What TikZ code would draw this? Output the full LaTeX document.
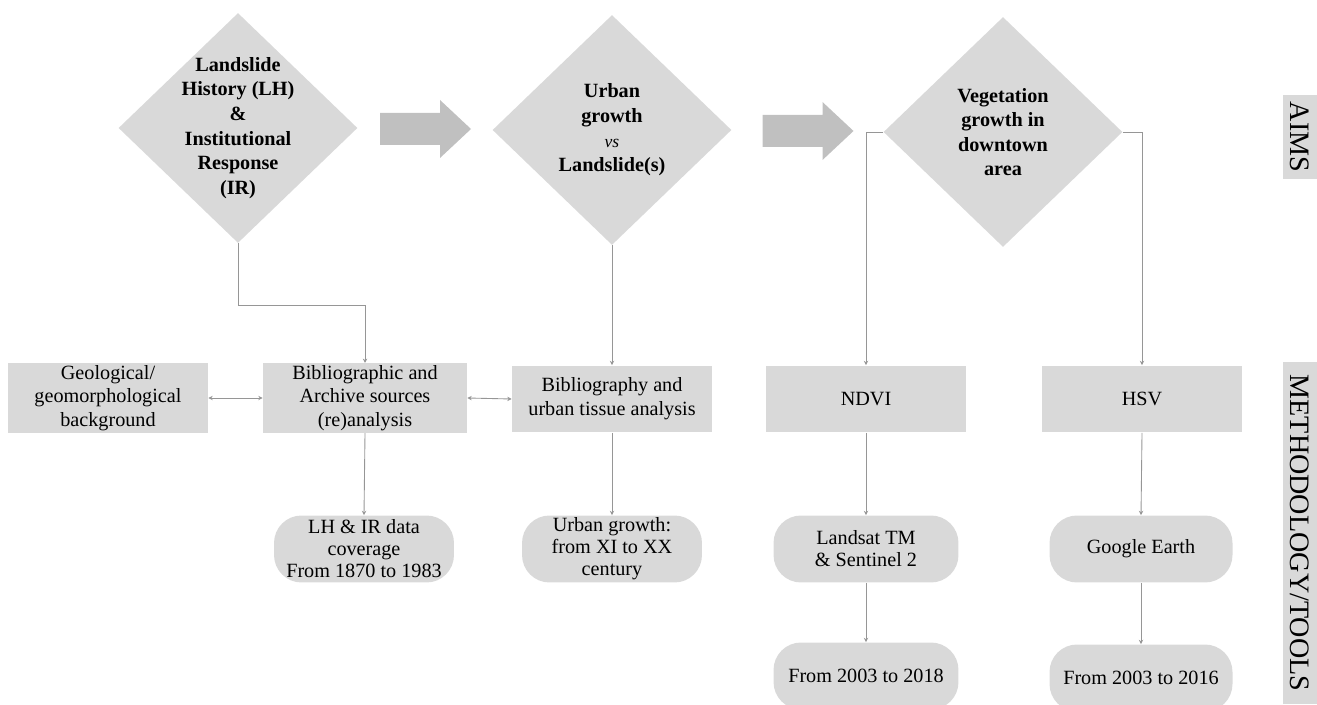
\documentclass[tikz,border=0pt]{standalone}
\usepackage{fontspec}
\setmainfont{Liberation Serif}
\usetikzlibrary{shapes.geometric,arrows.meta,positioning,calc}
\definecolor{boxgray}{RGB}{217,217,217}
\definecolor{arrowgray}{RGB}{192,192,192}
\definecolor{linegray}{RGB}{150,150,150}
\tikzset{
  aim/.style={diamond, fill=boxgray, minimum width=4.78cm, minimum height=4.6cm,
    inner sep=-20pt, align=center, font=\fontsize{11.5}{14}\selectfont\bfseries},
  tool/.style={rectangle, fill=boxgray, minimum width=4cm, minimum height=1.34cm,
    inner sep=1pt, align=center, font=\fontsize{11.5}{13.5}\selectfont},
  source/.style={rectangle, rounded corners=0.55cm, fill=boxgray, minimum width=3.7cm,
    minimum height=1.34cm, inner sep=1pt, align=center, font=\fontsize{11.5}{12.5}\selectfont},
  side/.style={rectangle, fill=boxgray, rotate=-90, minimum height=0.68cm, inner sep=0pt,
    font=\fontsize{16}{18}\selectfont},
  link/.style={draw=linegray, line width=0.5pt, -{Stealth[length=2.5pt,width=2.5pt]}},
  twolink/.style={link, {Stealth[length=2.5pt,width=2.5pt]}-{Stealth[length=2.5pt,width=2.5pt]}},
  bigarrow/.style={fill=arrowgray}
}
\begin{document}
\begin{tikzpicture}[x=0.02cm,y=-0.02cm]
    \useasboundingbox (0,0) rectangle (1317,705);
    % aims
    \node[aim] (lh) at (238,128) {Landslide\\History (LH)\\\&\\Institutional\\Response\\(IR)};
    \node[aim] (ug) at (612,130) {Urban\\growth\\{\fontsize{10}{14}\selectfont\mdseries\itshape vs}\\Landslide(s)};
    \node[aim] (veg) at (1003,132) {Vegetation\\growth in\\downtown\\area};
    \path ($(lh.east)!0.5!(ug.west)$) coordinate (a1);
    \path ($(ug.east)!0.5!(veg.west)$) coordinate (a2);
    \fill[bigarrow] (a1) ++(-45,-16) -- ++(60,0) -- ++(0,-13) -- ++(31,29)
        -- ++(-31,29) -- ++(0,-13) -- ++(-60,0) -- cycle;
    \fill[bigarrow] (a2) ++(-45,-16) -- ++(60,0) -- ++(0,-13) -- ++(31,29)
        -- ++(-31,29) -- ++(0,-13) -- ++(-60,0) -- cycle;
    % methodology / tools
    \node[tool] (geo) at (108,398) {Geological/\\geomorphological\\background};
    \node[tool, minimum width=4.08cm] (bib) at (365,398) {Bibliographic and\\Archive sources\\(re)analysis};
    \node[tool] (urb) at (612,399) {Bibliography and\\urban tissue analysis};
    \node[tool] (ndvi) at (866,399) {NDVI};
    \node[tool] (hsv) at (1142,399) {HSV};
    \node[source, minimum width=3.6cm] (lhir) at (364,549) {LH \& IR data\\coverage\\From 1870 to 1983};
    \node[source, minimum width=3.6cm] (ugt) at (612,549) {Urban growth:\\from XI to XX\\century};
    \node[source] (land) at (866,549) {Landsat TM\\\& Sentinel 2};
    \node[source, minimum width=3.66cm] (ge) at (1141,549) {Google Earth};
    \node[source] (p1) at (866,676) {From 2003 to 2018};
    \node[source, minimum width=3.66cm] (p2) at (1141,678) {From 2003 to 2016};
    \node[side, minimum width=1.7cm] (aims) at (1300,137) {AIMS};
    \node[side, minimum width=6.86cm] (meth) at (1300,533) {METHODOLOGY/TOOLS};
    % links
    \coordinate (lhbend) at (238,305);
    \draw[link] (lh.south) -- (lhbend) -| (bib.north);
    \draw[link] (ug.south) -- (urb.north);
    \draw[link] (veg.west) -| (ndvi.north);
    \draw[link] (veg.east) -| (hsv.north);
    \draw[twolink] (geo.east) -- (bib.west);
    \draw[twolink] (bib.east) -- (urb.west);
    \draw[link] (bib.south) -- (lhir.north);
    \draw[link] (urb.south) -- (ugt.north);
    \draw[link] (ndvi.south) -- (land.north);
    \draw[link] (land.south) -- (p1.north);
    \draw[link] (hsv.south) -- (ge.north);
    \draw[link] (ge.south) -- (p2.north);
\end{tikzpicture}
\end{document}
